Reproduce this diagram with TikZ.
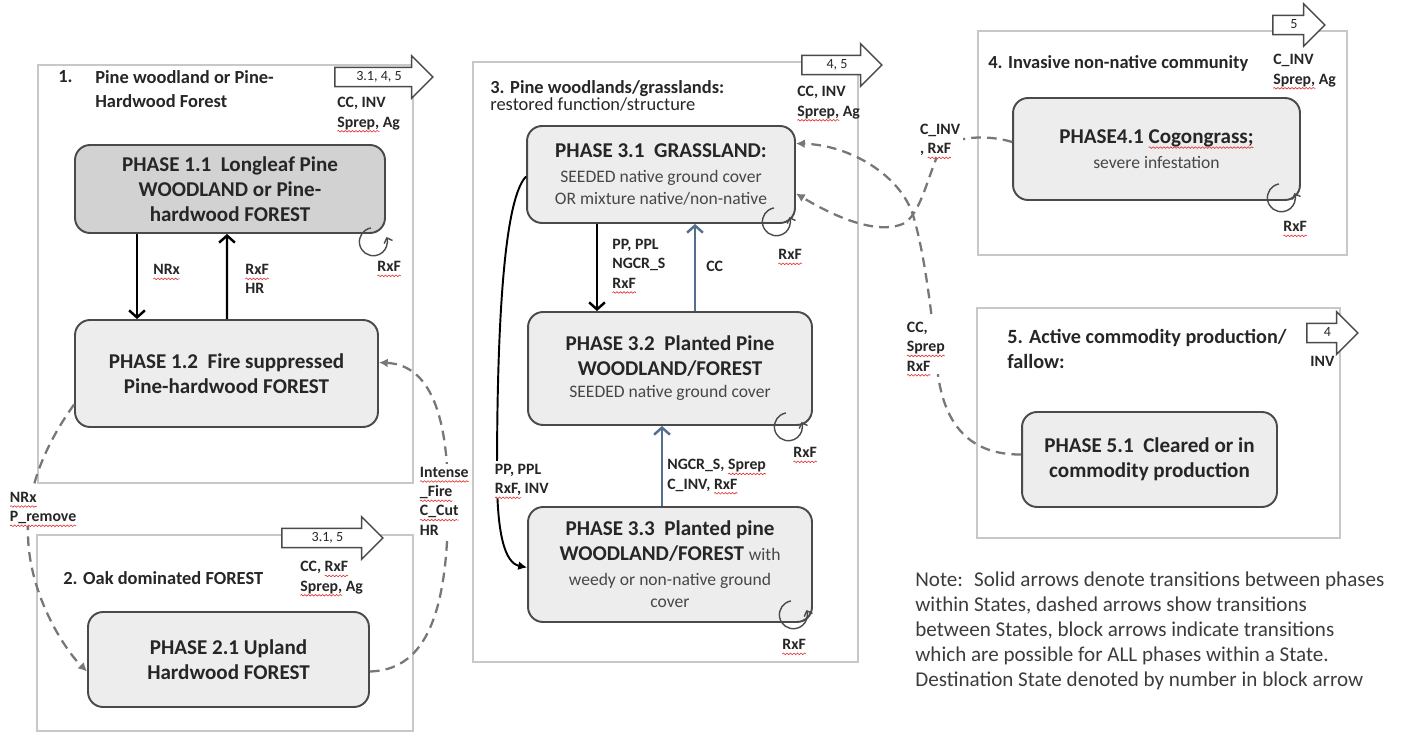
\documentclass[tikz,border=0pt]{standalone}
\usepackage{fontspec}
\setmainfont{Carlito}
\usepackage{xcolor}
\usepackage{tikz}
\usetikzlibrary{arrows.meta,shapes.arrows,positioning,decorations.pathmorphing}
\definecolor{boxline}{HTML}{C8C8C8}
\definecolor{phaseline}{HTML}{4A4A4A}
\definecolor{phasefill}{HTML}{EDEDED}
\definecolor{phasedark}{HTML}{D2D2D2}
\definecolor{slate}{HTML}{55708F}
\definecolor{dashgray}{HTML}{777777}
\definecolor{txt}{HTML}{262626}
\definecolor{spell}{HTML}{E03030}
\newcommand{\subtxt}{\fontsize{10}{12}\selectfont\mdseries\color{txt!85!white}}
\newsavebox{\sqbox}
\newcommand{\sqg}[1]{\sbox{\sqbox}{#1}\tikz[baseline=(sqt.base)]{%
    \node[inner sep=0pt, outer sep=0pt, minimum width=0pt, minimum height=0pt,
        draw=none, fill=none, anchor=base west] (sqt) at (0,0) {\usebox{\sqbox}};
    \draw[overlay, spell, line width=0.35pt, sharp corners, decorate,
        decoration={snake, amplitude=0.45pt, segment length=2pt}]
        ([yshift=-2.4pt]sqt.base west) -- ([yshift=-2.4pt]sqt.base east);}}

\begin{document}
\begin{tikzpicture}[x=0.02cm, y=0.02cm,
        statebox/.style={draw=boxline, line width=1.2pt},
        phase/.style={draw=phaseline, line width=1.1pt, fill=phasefill, rounded corners=0.3cm,
            align=center, inner sep=0pt, text=txt, font=\fontsize{12}{14.2}\selectfont\bfseries},
        sttitle/.style={anchor=north west, inner sep=0pt, align=left, text=txt,
            font=\fontsize{10.5}{13.6}\selectfont\bfseries},
        lbl/.style={anchor=north west, inner sep=0pt, align=left, text=txt,
            font=\fontsize{9}{11}\selectfont\bfseries},
        cutlbl/.style={lbl, fill=white, inner sep=1.5pt},
        blockarr/.style={single arrow, draw=phaseline, fill=white, line width=0.8pt,
            single arrow head extend=0.23cm, single arrow tip angle=90,
            text height=5.5pt, text depth=1.5pt, inner ysep=1.6pt, inner xsep=2pt,
            text=txt, font=\fontsize{8}{9}\selectfont},
        inarr/.style={line width=1.4pt, -{Straight Barb[length=4pt,width=9pt]}},
        curvarr/.style={line width=1.1pt, -{Latex[length=5pt,width=5pt]}},
        dasharr/.style={dashgray, line width=1.3pt, dash pattern=on 5.5pt off 3.5pt,
            -{Latex[length=5pt,width=5pt]}},
        rxfloop/.style={phaseline, line width=0.8pt, -{Straight Barb[length=2.5pt,width=5pt]}}]

        \useasboundingbox (0,0) rectangle (1406,735);

        \draw[statebox] (38,252) rectangle (413,670);
        \draw[statebox] (37,4) rectangle (413,200);
        \draw[statebox] (473,73) rectangle (858,673);
        \draw[statebox] (978,480) rectangle (1347,704);
        \draw[statebox] (977,197) rectangle (1340,427);

        \node[phase, fill=phasedark, minimum width=6.2cm, minimum height=1.76cm] (p11) at (230,546)
            {PHASE 1.1~ Longleaf Pine\\WOODLAND or Pine-\\hardwood FOREST};
        \node[phase, minimum width=6.06cm, minimum height=2.14cm] (p12) at (226.5,361.5)
            {PHASE 1.2~ Fire suppressed\\Pine-hardwood FOREST};
        \node[phase, minimum width=5.62cm, minimum height=1.9cm] (p21) at (228.5,75.5)
            {PHASE 2.1 Upland\\Hardwood FOREST};
        \node[phase, minimum width=5.36cm, minimum height=1.94cm] (p31) at (661,560.5)
            {PHASE 3.1~ GRASSLAND:\\{\subtxt SEEDED native ground cover}\\[-1.7pt]{\subtxt OR mixture native/non-native}};
        \node[phase, minimum width=5.68cm, minimum height=2.26cm] (p32) at (670,366.5)
            {PHASE 3.2~ Planted Pine\\WOODLAND/FOREST\\[-1.7pt]{\subtxt SEEDED native ground cover}};
        \node[phase, minimum width=5.68cm, minimum height=2.3cm] (p33) at (670,170.5)
            {PHASE 3.3~ Planted pine\\WOODLAND/FOREST {\subtxt with}\\{\subtxt weedy or non-native ground}\\[-1.7pt]{\subtxt cover}};
        \node[phase, minimum width=5.74cm, minimum height=2.04cm] (p41) at (1156.5,586)
            {PHASE4.1 \sqg{Cogongrass;}\\{\subtxt severe infestation}};
        \node[phase, minimum width=5.1cm, minimum height=1.9cm] (p51) at (1149.5,275.5)
            {PHASE 5.1~ Cleared or in\\commodity production};

        \draw[inarr] ([shift={(-93,0)}]p11.south) -- ([shift={(-89.5,0)}]p12.north);
        \draw[inarr] ([shift={(0.5,0)}]p12.north) -- ([shift={(-3,0)}]p11.south);
        \draw[inarr] ([shift={(-64,0)}]p31.south) -- ([shift={(-73,0)}]p32.north);
        \draw[inarr, slate] ([shift={(25,0)}]p32.north) -- ([shift={(34,0)}]p31.south);
        \draw[inarr, slate] ([shift={(-8,0)}]p33.north) -- ([shift={(-8,0)}]p32.south);
        \draw[curvarr] ([shift={(0,-2)}]p31.west) .. controls (508,540) and (497,450) .. (497,260)
            .. controls (497,200) and (505,172) .. ([shift={(0,-3)}]p33.west);

        \draw[dasharr] ([shift={(0,-31)}]p12.west) .. controls (45,290) and (26,245) .. (28,200)
            .. controls (29,140) and (65,85) .. ([shift={(0,-12)}]p21.west);
        \draw[dasharr] ([shift={(0,-12)}]p21.east) .. controls (420,65) and (448,110) .. (448,230)
            .. controls (449,320) and (430,370) .. ([shift={(0,11)}]p12.east);
        \draw[dasharr] ([shift={(0,5)}]p51.west) .. controls (970,280) and (945,310) .. (938,360)
            .. controls (932,420) and (925,480) .. (913,520)
            .. controls (900,560) and (850,590) .. ([shift={(0,31)}]p31.east);
        \draw[dasharr] ([shift={(0,7)}]p41.west) .. controls (990,600) and (955,600) .. (940,585)
            .. controls (928,560) and (922,525) .. (905,512)
            .. controls (880,500) and (840,515) .. ([shift={(0,-19)}]p31.east);

        \draw[rxfloop] ([shift={(-15,6)}]p11.south east) arc[start angle=100, end angle=380, radius=0.28cm];
        \draw[rxfloop] ([shift={(-22,16)}]p31.south east) arc[start angle=100, end angle=380, radius=0.28cm];
        \draw[rxfloop] ([shift={(-27,13)}]p32.south east) arc[start angle=100, end angle=380, radius=0.28cm];
        \draw[rxfloop] ([shift={(-22,22)}]p33.south east) arc[start angle=100, end angle=380, radius=0.28cm];
        \draw[rxfloop] ([shift={(-22,17)}]p41.south east) arc[start angle=100, end angle=380, radius=0.28cm];

        \node[sttitle] (t1num) at (58,665) {1.};
        \node[sttitle] (t1) at (95,665) {Pine woodland or Pine-\\Hardwood Forest};
        \node[sttitle] (t2) at (63,164) {2. Oak dominated FOREST};
        \node[sttitle, font=\fontsize{10.5}{10}\selectfont\bfseries] (t3) at (490,655)
            {3. Pine woodlands/grasslands:\\{\mdseries restored function/structure}};
        \node[sttitle] (t4) at (988,680) {4. Invasive non-native community};
        \node[sttitle, font=\fontsize{11.5}{14.2}\selectfont\bfseries] (t5) at (1007,406)
            {5. Active commodity production/\\fallow:};

        \node[lbl] (l11) at (337,638) {CC, INV\\\sqg{Sprep,} Ag};
        \node[lbl] (lnrx) at (153,471) {\sqg{NRx}};
        \node[lbl] (lrxfhr) at (245,471) {\sqg{RxF}\\HR};
        \node[lbl] (lp11) at (377,474) {\sqg{RxF}};
        \node[cutlbl] (lpremove) at (7,246) {\sqg{NRx}\\\sqg{P\_remove}};
        \node[cutlbl] (lfire) at (417,271) {\sqg{Intense}\\\sqg{\_Fire}\\\sqg{C\_Cut}\\HR};
        \node[lbl] (l21) at (300,174) {CC, \sqg{RxF}\\\sqg{Sprep,} Ag};
        \node[lbl] (l31) at (797,649) {CC, INV\\\sqg{Sprep,} Ag};
        \node[lbl] (lpp) at (612,496) {PP, PPL\\NGCR\_S\\\sqg{RxF}};
        \node[lbl] (lcc) at (706,474) {CC};
        \node[lbl] (lp31) at (778,486) {\sqg{RxF}};
        \node[lbl] (lp32) at (793,288) {\sqg{RxF}};
        \node[lbl] (lngcr) at (667,276) {NGCR\_S, \sqg{Sprep}\\C\_INV, \sqg{RxF}};
        \node[cutlbl] (lppinv) at (492,274) {PP, PPL\\\sqg{RxF,} INV};
        \node[lbl] (lp33) at (782,96) {\sqg{RxF}};
        \node[lbl] (l41) at (1273,681) {C\_INV\\\sqg{Sprep,} Ag};
        \node[lbl] (lp41) at (1283,514) {\sqg{RxF}};
        \node[cutlbl] (lcinv) at (917,614) {C\_INV\\, \sqg{RxF}};
        \node[cutlbl] (lccs) at (904,416) {CC,\\\sqg{Sprep}\\\sqg{RxF}};
        \node[lbl] (l51) at (1310,379) {INV};

        \node[blockarr, minimum height=1.96cm] (ba1) at (379,658) {3.1, 4, 5};
        \node[blockarr, minimum height=2.02cm] (ba2) at (327.5,197) {3.1, 5};
        \node[blockarr, minimum height=1.6cm] (ba3) at (837,670) {4, 5};
        \node[blockarr, minimum height=1.04cm] (ba4) at (1294,710) {5};
        \node[blockarr, minimum height=1.02cm] (ba5) at (1327.5,402) {4};

        \node[anchor=north west, inner sep=0pt, align=left, text=txt!90!white,
            font=\fontsize{12}{14.2}\selectfont] (note) at (915,163)
            {Note:~ Solid arrows denote transitions between phases\\
             within States, dashed arrows show transitions\\
             between States, block arrows indicate transitions\\
             which are possible for ALL phases within a State.\\
             Destination State denoted by number in block arrow};
\end{tikzpicture}
\end{document}
